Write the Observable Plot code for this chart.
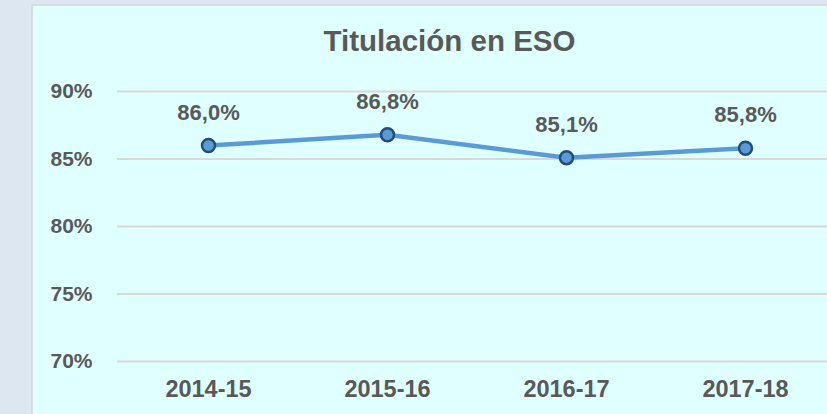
<!DOCTYPE html>
<html>
<head>
<meta charset="utf-8">
<script src="https://cdn.jsdelivr.net/npm/d3@7"></script>
<script src="https://cdn.jsdelivr.net/npm/@observablehq/plot@0.6"></script>
<style>
  html, body { margin: 0; padding: 0; width: 827px; height: 414px; overflow: hidden; background: #dde7f2; }
  #panel { position: absolute; left: 31px; top: 4px; width: 830px; height: 430px; background: #e0ffff; border: 2px solid #d6dde3; box-sizing: border-box; }
  #title { position: absolute; left: 0; width: 899px; top: 24px; text-align: center; font: bold 29.5px "Liberation Sans", Arial, sans-serif; color: #595959; line-height: 34px; }
  #chart { position: absolute; left: 0; top: 0; }
  #chart svg { background: transparent; }
</style>
</head>
<body>
<div id="panel"></div>
<div id="title">Titulación en ESO</div>
<div id="chart"></div>
<script>
const categories = ["2014-15", "2015-16", "2016-17", "2017-18"];
const values = [86.0, 86.8, 85.1, 85.8];
const yTicks = [70, 75, 80, 85, 90];

const data = categories.map((c, i) => ({curso: c, valor: values[i]}));
const fmt = v => v.toFixed(1).replace(".", ",") + "%";

const chart = Plot.plot({
  width: 827,
  height: 414,
  marginLeft: 117,
  marginRight: 0,
  marginTop: 91,
  marginBottom: 53,
  style: {background: "transparent", fontFamily: "'Liberation Sans', Arial, sans-serif", color: "#595959"},
  x: {type: "point", domain: categories, range: [207, 745], padding: 0, label: null},
  y: {domain: [70, 90], label: null},
  marks: [
    Plot.ruleY(yTicks, {stroke: "#d9d9d9", strokeWidth: 2}),
    Plot.axisY(yTicks, {tickSize: 0, tickPadding: 25, tickFormat: d => d + "%", fontSize: 21, fontWeight: "bold", fill: "#595959", label: null}),
    Plot.axisX(categories, {tickSize: 0, tickPadding: 19, fontSize: 23.5, fontWeight: "bold", fill: "#595959", label: null}),
    Plot.line(data, {x: "curso", y: "valor", stroke: "#5b9bd5", strokeWidth: 4.5}),
    Plot.dot(data, {x: "curso", y: "valor", r: 6.5, fill: "#5b9bd5", stroke: "#1f4e79", strokeWidth: 2.5}),
    Plot.text(data, {x: "curso", y: "valor", text: d => fmt(d.valor), dy: -26, lineAnchor: "bottom", fontSize: 22, fontWeight: "bold", fill: "#595959"})
  ]
});
document.getElementById("chart").appendChild(chart);
</script>
</body>
</html>
